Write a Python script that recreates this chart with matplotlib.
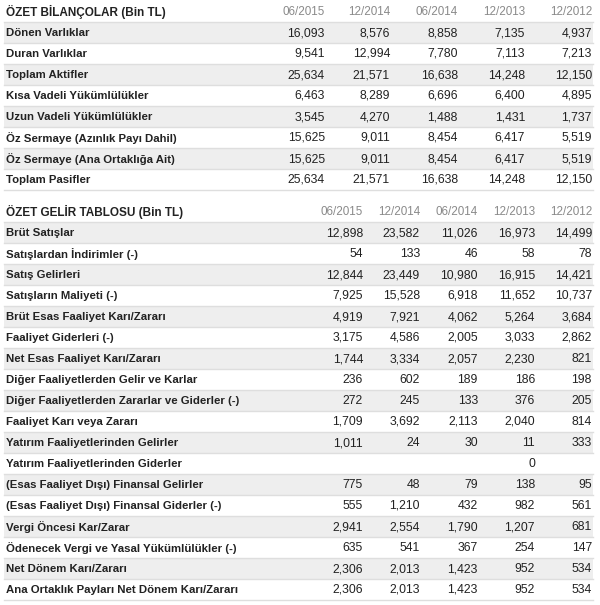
import matplotlib.pyplot as plt
from matplotlib.patches import Rectangle

plt.rcParams['font.family'] = ['Liberation Sans', 'DejaVu Sans']

periods = ['06/2015', '12/2014', '06/2014', '12/2013', '12/2012']

bs_title = 'ÖZET BİLANÇOLAR (Bin TL)'
bs_labels = ['Dönen Varlıklar', 'Duran Varlıklar', 'Toplam Aktifler',
             'Kısa Vadeli Yükümlülükler', 'Uzun Vadeli Yükümlülükler',
             'Öz Sermaye (Azınlık Payı Dahil)', 'Öz Sermaye (Ana Ortaklığa Ait)',
             'Toplam Pasifler']
bs_0615 = [16093, 9541, 25634, 6463, 3545, 15625, 15625, 25634]
bs_1214 = [8576, 12994, 21571, 8289, 4270, 9011, 9011, 21571]
bs_0614 = [8858, 7780, 16638, 6696, 1488, 8454, 8454, 16638]
bs_1213 = [7135, 7113, 14248, 6400, 1431, 6417, 6417, 14248]
bs_1212 = [4937, 7213, 12150, 4895, 1737, 5519, 5519, 12150]

is_title = 'ÖZET GELİR TABLOSU (Bin TL)'
is_labels = ['Brüt Satışlar', 'Satışlardan İndirimler (-)', 'Satış Gelirleri',
             'Satışların Maliyeti (-)', 'Brüt Esas Faaliyet Karı/Zararı',
             'Faaliyet Giderleri (-)', 'Net Esas Faaliyet Karı/Zararı',
             'Diğer Faaliyetlerden Gelir ve Karlar',
             'Diğer Faaliyetlerden Zararlar ve Giderler (-)',
             'Faaliyet Karı veya Zararı', 'Yatırım Faaliyetlerinden Gelirler',
             'Yatırım Faaliyetlerinden Giderler',
             '(Esas Faaliyet Dışı) Finansal Gelirler',
             '(Esas Faaliyet Dışı) Finansal Giderler (-)',
             'Vergi Öncesi Kar/Zarar', 'Ödenecek Vergi ve Yasal Yükümlülükler (-)',
             'Net Dönem Karı/Zararı', 'Ana Ortaklık Payları Net Dönem Karı/Zararı']
is_0615 = [12898, 54, 12844, 7925, 4919, 3175, 1744, 236, 272, 1709, 1011, None, 775, 555, 2941, 635, 2306, 2306]
is_1214 = [23582, 133, 23449, 15528, 7921, 4586, 3334, 602, 245, 3692, 24, None, 48, 1210, 2554, 541, 2013, 2013]
is_0614 = [11026, 46, 10980, 6918, 4062, 2005, 2057, 189, 133, 2113, 30, None, 79, 432, 1790, 367, 1423, 1423]
is_1213 = [16973, 58, 16915, 11652, 5264, 3033, 2230, 186, 376, 2040, 11, 0, 138, 982, 1207, 254, 952, 952]
is_1212 = [14499, 78, 14421, 10737, 3684, 2862, 821, 198, 205, 814, 333, None, 95, 561, 681, 147, 534, 534]

W, H = 600, 605
fig = plt.figure(figsize=(W / 100, H / 100), dpi=100)
ax = fig.add_axes([0, 0, 1, 1])
ax.set_xlim(0, W)
ax.set_ylim(H, 0)
ax.axis('off')

ROW_H = 21
X0, X1 = 4, 593
TXT = '#222222'
HDR = '#8a8a8a'
STRIPE = '#eeeeee'
LINE = '#dedede'


def draw_table(title, labels, cols, top, col_right):
    # header row
    ax.text(6, top - 10, title, fontsize=8.5, fontweight='bold', color=TXT,
            va='center', ha='left')
    for p, xr in zip(periods, col_right):
        ax.text(xr, top - 10, p, fontsize=8.4, color=HDR, va='center', ha='right')
    ax.plot([X0, X1], [top, top], color=LINE, lw=1)
    for i, lab in enumerate(labels):
        y0 = top + i * ROW_H
        if i % 2 == 0:
            ax.add_patch(Rectangle((X0, y0 + 0.5), X1 - X0, ROW_H - 1,
                                   facecolor=STRIPE, edgecolor='none'))
        ax.plot([X0, X1], [y0 + ROW_H, y0 + ROW_H], color=LINE, lw=1)
        yc = y0 + ROW_H / 2 + 0.5
        ax.text(6, yc, lab, fontsize=8.2, fontweight='bold', color=TXT,
                va='center', ha='left')
        for col, xr in zip(cols, col_right):
            v = col[i]
            if v is None:
                continue
            ax.text(xr, yc, f'{v:,}', fontsize=8.8, color=TXT,
                    va='center', ha='right')


draw_table(bs_title, bs_labels, [bs_0615, bs_1214, bs_0614, bs_1213, bs_1212],
           22, [325, 390, 458, 525, 592])
draw_table(is_title, is_labels, [is_0615, is_1214, is_0614, is_1213, is_1212],
           222, [363, 420, 478, 535, 592])

fig.savefig('out.png', dpi=100, facecolor='white')
